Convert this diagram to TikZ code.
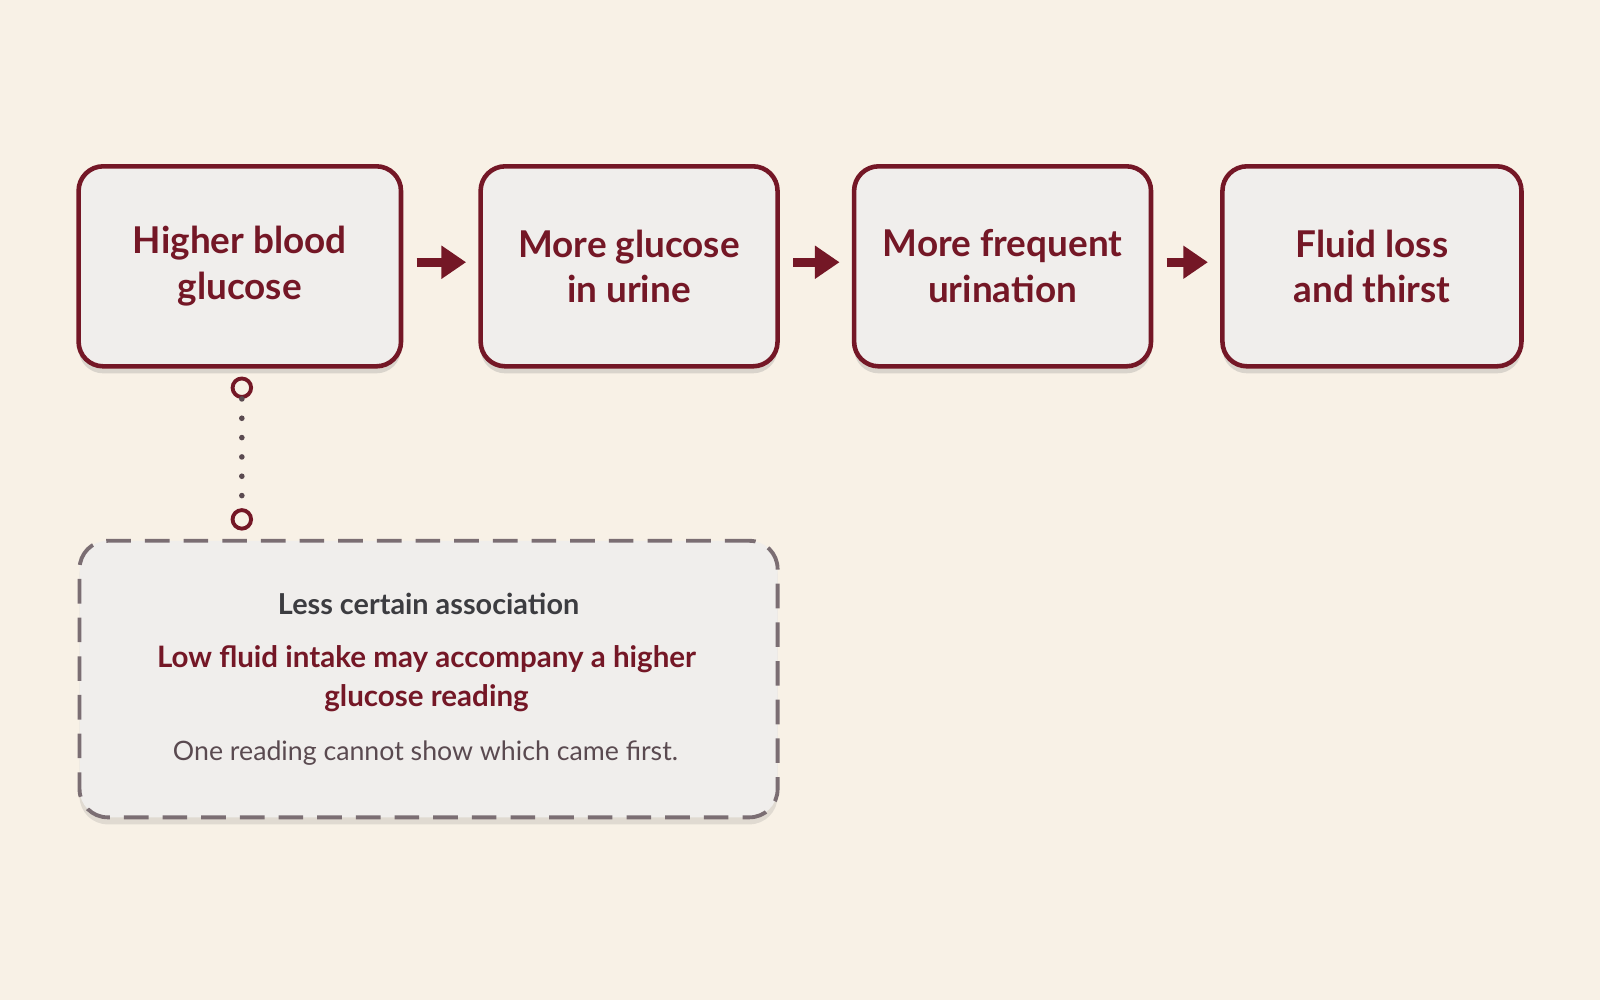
\documentclass[tikz,border=0pt]{standalone}
\usepackage{fontspec}
\setmainfont{Lato}
\usetikzlibrary{shadows,arrows.meta}
\definecolor{bg}{HTML}{F8F1E6}
\definecolor{dred}{HTML}{741726}
\definecolor{boxfill}{HTML}{F0EEEC}
\definecolor{dgray}{HTML}{3C3C40}
\definecolor{mgray}{HTML}{5A4A50}
\begin{document}
\begin{tikzpicture}[x=0.10204mm,y=-0.10204mm,
  step/.style={draw=dred,line width=1.3pt,fill=boxfill,rounded corners=7pt,
    minimum width=#1,minimum height=20mm,align=center,inner sep=0pt,
    font=\fontsize{10.5pt}{13pt}\selectfont\bfseries\color{dred},
    drop shadow={shadow xshift=0pt,shadow yshift=-2pt,opacity=0.25,fill=gray}},
  arr/.style={-{Triangle[length=7pt,width=9pt]},draw=dred,line width=2.6pt},
  ring/.style={circle,draw=dred,line width=1.1pt,fill=bg,minimum size=1.85mm,inner sep=0pt}]
\fill[bg] (0,0) rectangle (1568,980);
\useasboundingbox (0,0) rectangle (1568,980);
\node[step=32.24mm] (a) at (235,261) {Higher blood\\glucose};
\node[step=29.69mm] (b) at (616.5,261) {More glucose\\in urine};
\node[step=29.69mm] (c) at (982.5,261) {More frequent\\urination};
\node[step=29.9mm] (d) at (1344.5,261) {Fluid loss\\and thirst};
\draw[arr] ([shift={(13,-4)}]a.east) -- ([shift={(-12,-4)}]b.west);
\draw[arr] ([shift={(13,-4)}]b.east) -- ([shift={(-12,-4)}]c.west);
\draw[arr] ([shift={(13,-4)}]c.east) -- ([shift={(-12,-4)}]d.west);
\node[draw=mgray!80,dash pattern=on 7pt off 4pt,line width=1.1pt,fill=boxfill,rounded corners=8pt,
  minimum width=69.8mm,minimum height=27.65mm,
  drop shadow={shadow xshift=0pt,shadow yshift=-2pt,opacity=0.2,fill=gray}] (n) at (420,665.5) {};
\node[font=\fontsize{8.2pt}{10pt}\selectfont\bfseries,text=dgray] (t1) at (420,592) {Less certain association};
\node[font=\fontsize{8.4pt}{11pt}\selectfont\bfseries,text=dred,align=center] (t2) at (418,665) {Low fluid intake may accompany a higher\\glucose reading};
\node[font=\fontsize{7.6pt}{10pt}\selectfont,text=mgray] (t3) at (417,738) {One reading cannot show which came first.};
\node[ring] (r1) at (237,380) {};
\node[ring] (r2) at (237,509) {};
\draw[mgray,line width=1.6pt,line cap=round,dash pattern=on 0pt off 5.5pt] (r1.south) -- (r2.north);
\end{tikzpicture}
\end{document}
